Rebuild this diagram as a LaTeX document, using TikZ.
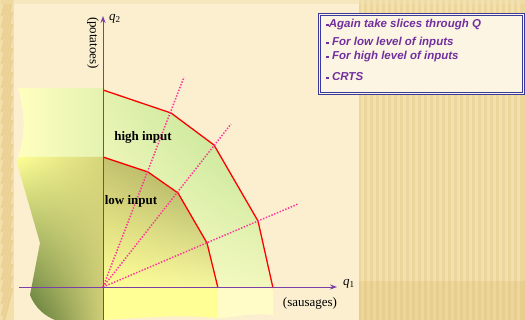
\documentclass[tikz,border=0pt]{standalone}
\usepackage{fontspec}
\setmainfont{Liberation Serif}
\setsansfont{Liberation Sans}
\usetikzlibrary{arrows.meta,shadings}
\definecolor{cream}{HTML}{FBEFD0}
\definecolor{tanA}{HTML}{EDD69C}
\definecolor{tanB}{HTML}{F2E0AE}
\definecolor{tanC}{HTML}{E7CE8E}
\definecolor{tanD}{HTML}{ECD69C}
\definecolor{stripL}{HTML}{F3DFAA}
\definecolor{stripD}{HTML}{EAD092}
\definecolor{axpurple}{HTML}{7B3FA8}
\definecolor{rayc}{HTML}{FF3399}
\definecolor{boxblue}{HTML}{3A3A9A}
\definecolor{txtpurple}{HTML}{7030A0}
\definecolor{bandG}{HTML}{B0DC84}
\definecolor{bandP}{HTML}{FAFCC6}
\definecolor{bandM}{HTML}{E4F2B0}
\definecolor{oliveD}{HTML}{9EA258}
\definecolor{oliveM}{HTML}{C4C270}
\definecolor{yelA}{HTML}{FFFF96}
\definecolor{yelB}{HTML}{F6F6A0}
\definecolor{darkG}{HTML}{47692C}
\tikzset{
  axis/.style={draw=axpurple, line width=0.9pt},
  curve/.style={draw=red, line width=1.3pt, line join=round},
  ray/.style={draw=rayc, line width=1.5pt, dash pattern=on 1.4pt off 1.6pt},
  lbl/.style={font=\fontsize{13}{15}\selectfont\bfseries, inner sep=0pt},
  axlbl/.style={font=\fontsize{13}{15}\selectfont, inner sep=0pt},
  boxtxt/.style={font=\sffamily\bfseries\itshape\fontsize{11.5}{13}\selectfont, text=txtpurple, anchor=west, inner sep=0pt},
}
\newcommand{\bul}{\rule[1.6pt]{2.7pt}{2.7pt}}
\begin{document}
\begin{tikzpicture}[x=1pt,y=-1pt]
\useasboundingbox (0,0) rectangle (525,320);
% background
\fill[cream] (0,0) rectangle (525,320);
\fill[tanA] (359,0) rectangle (525,320);
\foreach \x in {361,367,...,522} \fill[tanB] (\x,0) rectangle (\x+3,320);
\fill[tanC] (359,281) rectangle (525,320);
\foreach \x in {361,367,...,522} \fill[tanD] (\x,281) rectangle (\x+3,320);
\fill[stripL] (0,0) rectangle (14,320);
\foreach \y in {-20,-8,...,330} \draw[stripD, line width=2.5pt] (2,\y) -- (12,\y-40);
\fill[tanB,opacity=0.5] (0,0) rectangle (525,4);
% key coordinates
\coordinate (O) at (103,287);
\coordinate (Ytop) at (103,16);
\coordinate (Ybot) at (103,320);
\coordinate (Xl) at (19,287);
\coordinate (Xr) at (337,287);
\coordinate (h1) at (103,90);
\coordinate (h2) at (171,113);
\coordinate (h3) at (214,145);
\coordinate (h4) at (258,221);
\coordinate (h5) at (273,288);
\coordinate (l1) at (103,157);
\coordinate (l2) at (148,172);
\coordinate (l3) at (178,193);
\coordinate (l4) at (207,243);
\coordinate (l5) at (218,288);
\coordinate (r1) at (184,77);
\coordinate (r2) at (231,124);
\coordinate (r3) at (298,204);
% surface pieces
\shade[left color=yellow!25!white, right color=bandM] (103,88) -- (18,88) .. controls (25,110) and (26,135) .. (18,157) -- (103,157) -- cycle;
\shade[upper left=yelA, upper right=oliveM!70!yelA, lower left=darkG, lower right=oliveM!80!yelA] (103,157) -- (22,157) .. controls (17,157) and (16,160) .. (17,163) -- (40,243) -- (30,295) .. controls (35,308) and (45,316) .. (55,320) -- (103,320) -- cycle;
\shade[upper left=bandM, upper right=bandG, lower left=bandP, lower right=bandP!60!bandM] (h1) -- (h2) -- (h3) -- (h4) -- (h5) -- (l5) -- (l4) -- (l3) -- (l2) -- (l1) -- cycle;
\shade[upper left=oliveM, upper right=oliveD, lower left=yelA, lower right=yelB] (l1) -- (l2) -- (l3) -- (l4) -- (l5) -- (103,288) -- cycle;
\fill[yelA] (103,288) -- (218,288) -- (218,318) .. controls (180,314) and (140,318) .. (103,320) -- cycle;
\fill[yellow!22!white] (218,288) -- (273,288) -- (273,315) .. controls (250,312) and (235,318) .. (218,318) -- cycle;
% curves
\draw[curve] (h1) -- (h2) -- (h3) -- (h4) -- (h5);
\draw[curve] (l1) -- (l2) -- (l3) -- (l4) -- (l5);
% rays
\draw[ray] (O) -- (r1);
\draw[ray] (O) -- (r2);
\draw[ray] (O) -- (r3);
% axes
\draw[axis, -{Stealth[length=7pt,width=5pt]}] (Ybot) -- (Ytop);
\draw[axis, -{Stealth[length=7pt,width=5pt]}] (Xl) -- (Xr);
\node[axlbl, anchor=west] (q2) at (109,19) {\textit{q}\textsubscript{2}};
\node[axlbl, anchor=west] (q1) at (343,284) {\textit{q}\textsubscript{1}};
\node[axlbl, rotate=-90] (pot) at (93,43) {(potatoes)};
\node[axlbl] (saus) at (310,303) {(sausages)};
\node[lbl] (hi) at (143,137) {high input};
\node[lbl] (lo) at (131,201) {low input};
% text box
\node[draw=boxblue, double=cream!60!white, double distance=1.3pt, line width=0.7pt, fill=cream!60!white, minimum width=204pt, minimum height=79pt, anchor=north west, inner sep=0pt] (box) at (319,14) {};
\node[boxtxt] (t1) at (326,25) {\bul Again take slices through Q};
\node[boxtxt] (t2) at (326,43) {\bul\ For low level of inputs};
\node[boxtxt] (t3) at (326,57) {\bul\ For high level of inputs};
\node[boxtxt] (t4) at (326,77) {\bul\ CRTS};
\end{tikzpicture}
\end{document}
